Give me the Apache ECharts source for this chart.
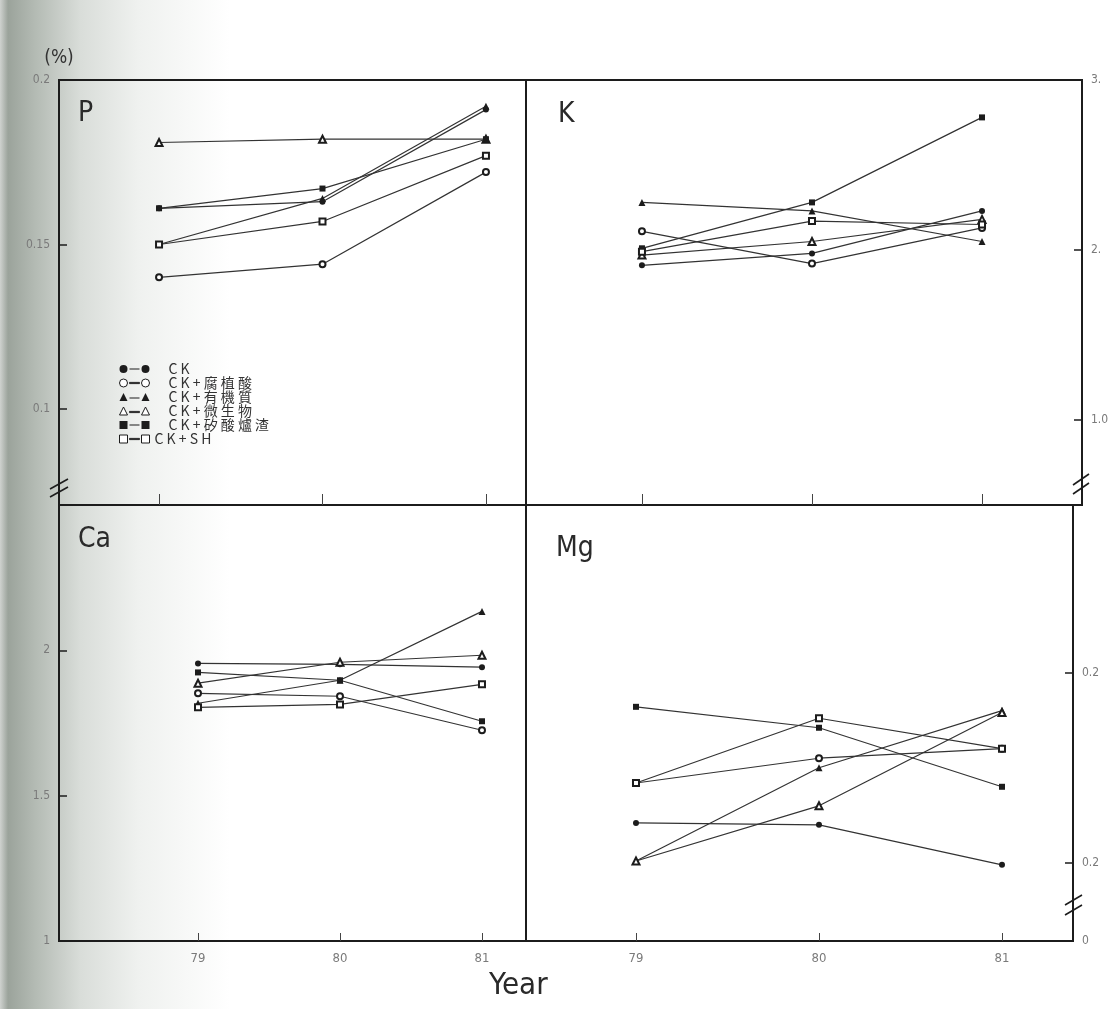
<!DOCTYPE html>
<html>
<head>
<meta charset="utf-8">
<title>P K Ca Mg</title>
<script src="https://cdn.jsdelivr.net/npm/echarts@6/dist/echarts.min.js"></script>
<style>
html, body { margin: 0; padding: 0; background: #fff; }
#main { width: 1117px; height: 1009px; }
</style>
</head>
<body>
<div id="main"></div>
<script>
// years on the x axis
var years = [79, 80, 81];

// treatments, in legend order
var names = ['CK', 'CK+腐植酸', 'CK+有機質', 'CK+微生物', 'CK+矽酸爐渣', 'CK+SH'];
var symbols = ['circle', 'emptyCircle', 'triangle', 'emptyTriangle', 'rect', 'emptyRect'];

// one row per treatment, values for 79 / 80 / 81 (%)
var pValues = [
    [0.161, 0.163, 0.191],
    [0.140, 0.144, 0.172],
    [0.150, 0.164, 0.192],
    [0.181, 0.182, 0.182],
    [0.161, 0.167, 0.182],
    [0.150, 0.157, 0.177]
];
var kValues = [
    [1.91, 1.98, 2.23],
    [2.11, 1.92, 2.13],
    [2.28, 2.23, 2.05],
    [1.97, 2.05, 2.18],
    [2.01, 2.28, 2.78],
    [1.99, 2.17, 2.15]
];
var caValues = [
    [1.955, 1.952, 1.942],
    [1.852, 1.842, 1.725],
    [1.818, 1.897, 2.134],
    [1.887, 1.959, 1.983],
    [1.924, 1.897, 1.756],
    [1.804, 1.814, 1.883]
];
var mgValues = [
    [0.221, 0.220, 0.199],
    [0.242, 0.255, 0.260],
    [0.201, 0.250, 0.280],
    [0.201, 0.230, 0.279],
    [0.282, 0.271, 0.240],
    [0.242, 0.276, 0.260]
];

// tick values and the text printed next to them
var pTicks = [0.1, 0.15, 0.2];
var pTickText = ['0.1', '0.15', '0.2'];
var kTicks = [1, 2, 3];
var kTickText = ['1.0', '2.', '3.'];
var caTicks = [1, 1.5, 2];
var caTickText = ['1', '1.5', '2'];
var mgTicks = [0.159, 0.2, 0.3];
var mgTickText = ['0', '0.2', '0.2'];

var panelTitles = ['P', 'K', 'Ca', 'Mg'];

var chart = echarts.init(document.getElementById('main'));

var ink = '#1c1c1c';
var faint = '#7a7a7a';
var condensed = '"DejaVu Sans Condensed", "DejaVu Sans", sans-serif';

function labelFor(ticks, text) {
    return function (v) {
        for (var i = 0; i < ticks.length; i++) {
            if (Math.abs(ticks[i] - v) < 1e-6) return text[i];
        }
        return '';
    };
}

var grids = [
    { left: 59, top: 80, width: 467, height: 425 },
    { left: 526, top: 80, width: 556, height: 425 },
    { left: 59, top: 505, width: 467, height: 436 },
    { left: 526, top: 505, width: 547, height: 436 }
].map(function (g) {
    g.show = true;
    g.borderColor = ink;
    g.borderWidth = 2;
    g.backgroundColor = 'transparent';
    g.outerBoundsMode = 'none';
    return g;
});

var xRanges = [[78.388, 81.245], [78.318, 81.588], [78.021, 81.31], [78.399, 81.388]];

var xAxes = xRanges.map(function (r, i) {
    var bottomRow = i >= 2;
    return {
        type: 'value',
        gridIndex: i,
        min: r[0],
        max: r[1],
        axisLine: { show: false },
        splitLine: { show: false },
        axisTick: {
            show: true,
            inside: true,
            length: bottomRow ? 8 : 11,
            customValues: years,
            lineStyle: { color: '#444', width: 1 }
        },
        axisLabel: {
            show: bottomRow,
            customValues: years,
            margin: 11,
            color: faint,
            fontSize: 13,
            fontFamily: condensed
        }
    };
});

var yConf = [
    { min: 0.0708, max: 0.2, ticks: pTicks, text: pTickText, pos: 'left', tickVals: pTicks },
    { min: 0.5, max: 3.0, ticks: kTicks, text: kTickText, pos: 'right', tickVals: [1, 2] },
    { min: 1, max: 2.5, ticks: caTicks, text: caTickText, pos: 'left', tickVals: [1.5, 2] },
    { min: 0.159, max: 0.388, ticks: mgTicks, text: mgTickText, pos: 'right', tickVals: [0.2, 0.3] }
];

var yAxes = yConf.map(function (c, i) {
    var ax = {
        type: 'value',
        gridIndex: i,
        position: c.pos,
        min: c.min,
        max: c.max,
        axisLine: { show: false },
        splitLine: { show: false },
        axisTick: {
            show: true,
            inside: true,
            length: 8,
            customValues: c.tickVals,
            lineStyle: { color: ink, width: 1.5 }
        },
        axisLabel: {
            customValues: c.ticks,
            formatter: labelFor(c.ticks, c.text),
            margin: 9,
            color: faint,
            fontSize: 12,
            fontFamily: condensed
        }
    };
    if (i === 0) {
        ax.name = '(%)';
        ax.nameLocation = 'end';
        ax.nameGap = 12;
        ax.nameTextStyle = { color: '#333', fontSize: 19, fontFamily: condensed, align: 'center' };
    }
    return ax;
});

var panels = [pValues, kValues, caValues, mgValues];
var series = [];
panels.forEach(function (vals, p) {
    names.forEach(function (name, i) {
        series.push({
            type: 'line',
            name: name,
            xAxisIndex: p,
            yAxisIndex: p,
            data: years.map(function (y, k) { return [y, vals[i][k]]; }),
            symbol: symbols[i],
            symbolSize: symbols[i].indexOf('riangle') >= 0 ? 7 : 6,
            showAllSymbol: true,
            lineStyle: { color: '#333', width: 1.2 },
            itemStyle: { color: ink, borderWidth: 1 },
            emphasis: { disabled: true },
            animation: false
        });
    });
});

// legend icons: symbol - line - symbol
var iconPaths = [
    'path://M0,5a4,4 0 1,0 8,0a4,4 0 1,0 -8,0zM10,4.4h10v1.2h-10zM22,5a4,4 0 1,0 8,0a4,4 0 1,0 -8,0z',
    'path://M0,5a4,4 0 1,0 8,0a4,4 0 1,0 -8,0zM10,4.4h10v1.2h-10zM22,5a4,4 0 1,0 8,0a4,4 0 1,0 -8,0z',
    'path://M0,9L4,1L8,9zM10,5.4h10v1.2h-10zM22,9L26,1L30,9z',
    'path://M0,9L4,1L8,9zM10,5.4h10v1.2h-10zM22,9L26,1L30,9z',
    'path://M0,1h8v8h-8zM10,4.4h10v1.2h-10zM22,1h8v8h-8z',
    'path://M0,1h8v8h-8zM10,4.4h10v1.2h-10zM22,1h8v8h-8z'
];
var legendData = names.map(function (n, i) {
    var d = { name: n, icon: iconPaths[i] };
    if (symbols[i].indexOf('empty') === 0) {
        d.itemStyle = { color: '#fff', borderColor: ink, borderWidth: 1 };
    } else {
        d.itemStyle = { color: ink, borderWidth: 0 };
    }
    // all rows but the last leave a gap between the icon and the text
    d.textStyle = { padding: [0, 0, 0, i < names.length - 1 ? 14 : 0] };
    return d;
});

var titles = panelTitles.map(function (t, i) {
    var pos = [[78, 100], [558, 101], [78, 526], [556, 535]][i];
    return {
        text: t,
        left: pos[0],
        top: pos[1],
        padding: 0,
        textStyle: { color: '#2a2a2a', fontSize: 28, fontWeight: 'normal', fontFamily: condensed }
    };
});
titles.push({
    text: 'Year',
    left: 489,
    top: 970,
    padding: 0,
    textStyle: { color: '#2a2a2a', fontSize: 31, fontWeight: 'normal', fontFamily: condensed }
});

function breakMark(x1, y1, x2, y2, gap) {
    return [
        { type: 'line', shape: { x1: x1, y1: y1, x2: x2, y2: y2 }, style: { stroke: ink, lineWidth: 1.6 } },
        { type: 'line', shape: { x1: x1, y1: y1 + gap, x2: x2, y2: y2 + gap }, style: { stroke: ink, lineWidth: 1.6 } }
    ];
}

var graphics = [{
    type: 'rect',
    z: -100,
    silent: true,
    shape: { x: 0, y: 0, width: 230, height: 1009 },
    style: {
        fill: new echarts.graphic.LinearGradient(0, 0, 1, 0, [
            { offset: 0, color: '#cfd2cf' },
            { offset: 0.035, color: '#9ba39b' },
            { offset: 0.15, color: '#b3bab3' },
            { offset: 0.35, color: '#d9ddd9' },
            { offset: 0.6, color: '#eff1ef' },
            { offset: 1, color: '#ffffff' }
        ])
    }
}].concat(
    breakMark(50, 489, 68, 479, 8),
    breakMark(1073, 485, 1089, 474, 9),
    breakMark(1065, 905, 1082, 895, 10)
);

chart.setOption({
    backgroundColor: '#ffffff',
    animation: false,
    title: titles,
    legend: {
        orient: 'vertical',
        left: 119,
        top: 362,
        itemWidth: 30,
        itemHeight: 8,
        itemGap: 0,
        padding: 0,
        selectedMode: false,
        data: legendData,
        formatter: function (n) { return n.split('').join(' '); },
        textStyle: { color: '#333', fontSize: 14, lineHeight: 14, fontFamily: '"Noto Sans CJK TC", sans-serif' }
    },
    grid: grids,
    xAxis: xAxes,
    yAxis: yAxes,
    series: series,
    graphic: graphics
});
</script>
</body>
</html>
